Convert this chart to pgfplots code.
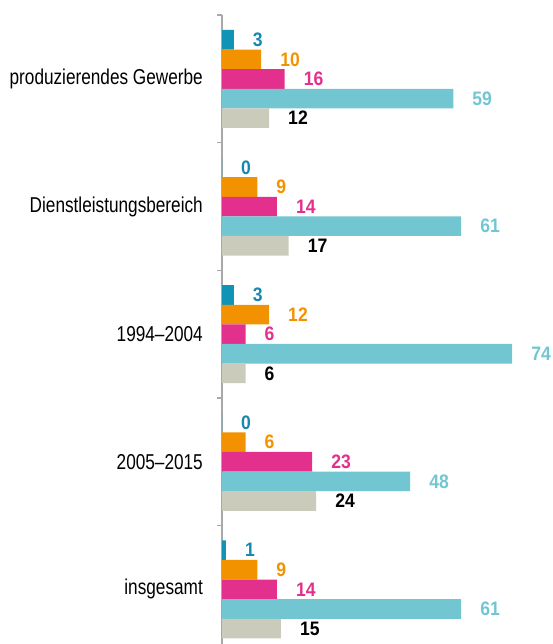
\documentclass[border=0pt]{standalone}
\usepackage{pgfplots}
\pgfplotsset{compat=1.18}
\usepackage{fontspec}
\setmainfont{Liberation Sans}
\newfontfamily\catfont[FakeStretch=0.8]{Liberation Sans}
\newfontfamily\valfont[FakeStretch=0.9]{Liberation Sans}
\definecolor{AxisGrey}{HTML}{A8A8A8}
\definecolor{BarBlue}{HTML}{1193B6}
\definecolor{LblBlue}{HTML}{1688AD}
\definecolor{BarOrange}{HTML}{F39200}
\definecolor{BarMagenta}{HTML}{E3308C}
\definecolor{BarCyan}{HTML}{71C6D2}
\definecolor{BarGrey}{HTML}{CBCBBB}

\begin{document}
\begin{tikzpicture}
\useasboundingbox (0,0) rectangle (552pt,644pt);
\begin{axis}[
  at={(222pt,0pt)}, anchor=south west,
  x=3.92pt, y=127.6pt,
  xmin=0, xmax=84.2,
  ymin=-0.428, ymax=4.5,
  axis x line=none,
  axis y line*=left,
  axis line style={draw=AxisGrey, line width=1.4pt},
  ytick={0,1,2,3,4},
  yticklabels={insgesamt, 2005–2015, 1994–2004, Dienstleistungsbereich, produzierendes Gewerbe},
  minor ytick={0.5,1.5,2.5,3.5,4.5},
  major tick length=0pt,
  minor tick length=5pt,
  tick align=outside,
  minor tick style={draw=AxisGrey, line width=1.4pt},
  yticklabel style={font=\catfont\fontsize{21.5}{21.5}\selectfont, inner sep=0pt, anchor=east, xshift=-19pt},
  xbar, bar width=19.6pt,
  clip=false,
  point meta=x,
  /pgf/number format/assume math mode=true,
  nodes near coords,
  every node near coord/.append style={anchor=west, inner sep=0pt, xshift=19pt,
    font=\valfont\bfseries\fontsize{19.5}{19.5}\selectfont},
]
\addplot[fill=BarBlue, draw=none, bar shift=39.2pt,
  every node near coord/.append style={text=LblBlue}]
  coordinates {(3,4) (0,3) (3,2) (0,1) (1,0)};
\addplot[fill=BarOrange, draw=none, bar shift=19.6pt,
  every node near coord/.append style={text=BarOrange}]
  coordinates {(10,4) (9,3) (12,2) (6,1) (9,0)};
\addplot[fill=BarMagenta, draw=none, bar shift=0pt,
  every node near coord/.append style={text=BarMagenta}]
  coordinates {(16,4) (14,3) (6,2) (23,1) (14,0)};
\addplot[fill=BarCyan, draw=none, bar shift=-19.6pt,
  every node near coord/.append style={text=BarCyan}]
  coordinates {(59,4) (61,3) (74,2) (48,1) (61,0)};
\addplot[fill=BarGrey, draw=none, bar shift=-39.2pt,
  every node near coord/.append style={text=black}]
  coordinates {(12,4) (17,3) (6,2) (24,1) (15,0)};
\end{axis}
\end{tikzpicture}
\end{document}
